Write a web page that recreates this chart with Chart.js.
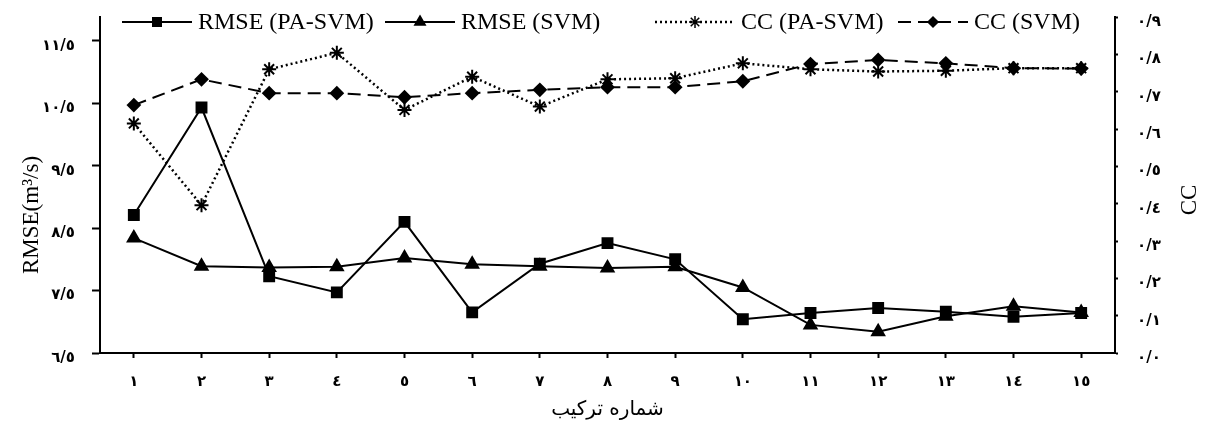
<!DOCTYPE html>
<html>
<head>
<meta charset="utf-8">
<script src="https://cdn.jsdelivr.net/npm/chart.js@4"></script>
<style>
  body { margin: 0; background: #fff; }
  #wrap { width: 1207px; height: 426px; position: relative; }
</style>
</head>
<body>
<div id="wrap"><canvas id="chart"></canvas></div>
<script>
// categories (combination number)
const categories = ['١','٢','٣','٤','٥','٦','٧','٨','٩','١٠','١١','١٢','١٣','١٤','١٥'];

// RMSE, left axis
const rmsePaSvm = [8.71, 10.43, 7.73, 7.47, 8.60, 7.15, 7.93, 8.26, 8.00, 7.04, 7.14, 7.22, 7.16, 7.08, 7.14];
const rmseSvm   = [8.34, 7.89, 7.87, 7.88, 8.02, 7.92, 7.89, 7.86, 7.88, 7.55, 6.95, 6.84, 7.09, 7.25, 7.15];

// CC, right axis
const ccPaSvm = [0.615, 0.396, 0.760, 0.804, 0.651, 0.740, 0.660, 0.733, 0.736, 0.776, 0.760, 0.754, 0.756, 0.763, 0.763];
const ccSvm   = [0.664, 0.733, 0.696, 0.696, 0.685, 0.696, 0.705, 0.712, 0.712, 0.728, 0.774, 0.785, 0.776, 0.763, 0.762];

// tick labels
const leftTicks = [6.5, 7.5, 8.5, 9.5, 10.5, 11.5];
const leftTickLabels = ['٦/٥','٧/٥','٨/٥','٩/٥','١٠/٥','١١/٥'];
const rightTickLabels = ['٠/٠','٠/١','٠/٢','٠/٣','٠/٤','٠/٥','٠/٦','٠/٧','٠/٨','٠/٩'];

const serif = '"Liberation Serif", "Times New Roman", serif';
const tickFont = { family: '"DejaVu Sans"', size: 15, weight: 'bold' };

// where each legend entry starts (x), as in the original
const legendX = [122, 385, 655, 898];

// legend + side titles drawn over the plot like the original
const overlay = {
    id: 'overlay',
    afterDraw(chart) {
        const ctx = chart.ctx;
        ctx.save();
        ctx.font = '24px ' + serif;
        ctx.textBaseline = 'middle';
        const y = 22;
        chart.data.datasets.forEach((ds, i) => {
            const x = legendX[i];
            const symW = ds.borderDash && ds.borderDash[0] < 4 ? 80 : 70;
            ctx.strokeStyle = '#000';
            ctx.fillStyle = '#000';
            ctx.lineWidth = ds.borderWidth;
            ctx.setLineDash(ds.borderDash || []);
            ctx.beginPath();
            ctx.moveTo(x, y);
            ctx.lineTo(x + symW, y);
            ctx.stroke();
            ctx.setLineDash([]);
            ctx.lineWidth = 1.5;
            Chart.helpers.drawPoint(ctx, {
                pointStyle: ds.pointStyle,
                radius: ds.pointRadius - 1,
                rotation: 0,
                borderWidth: 1.5
            }, x + symW / 2, y);
            ctx.fillStyle = '#000';
            ctx.fillText(ds.label, x + symW + 6, y + 1);
        });

        // axis titles
        ctx.font = '23px ' + serif;
        ctx.textAlign = 'center';
        ctx.save();
        ctx.translate(32, 215);
        ctx.rotate(-Math.PI / 2);
        ctx.fillText('RMSE(m³/s)', 0, 0);
        ctx.restore();
        ctx.save();
        ctx.translate(1190, 200);
        ctx.rotate(-Math.PI / 2);
        ctx.fillText('CC', 0, 0);
        ctx.restore();
        ctx.restore();
    }
};

new Chart(document.getElementById('chart'), {
    type: 'line',
    data: {
        labels: categories,
        datasets: [
            {
                label: 'RMSE (PA-SVM)',
                data: rmsePaSvm,
                yAxisID: 'y',
                borderColor: '#000',
                backgroundColor: '#000',
                borderWidth: 2,
                pointStyle: 'rect',
                pointRadius: 7,
                tension: 0
            },
            {
                label: 'RMSE (SVM)',
                data: rmseSvm,
                yAxisID: 'y',
                borderColor: '#000',
                backgroundColor: '#000',
                borderWidth: 2,
                pointStyle: 'triangle',
                pointRadius: 7,
                tension: 0
            },
            {
                label: 'CC (PA-SVM)',
                data: ccPaSvm,
                yAxisID: 'y1',
                borderColor: '#000',
                backgroundColor: '#000',
                borderWidth: 2.5,
                borderDash: [2, 3],
                pointStyle: 'star',
                pointRadius: 7,
                pointBorderWidth: 2,
                tension: 0
            },
            {
                label: 'CC (SVM)',
                data: ccSvm,
                yAxisID: 'y1',
                borderColor: '#000',
                backgroundColor: '#000',
                borderWidth: 2,
                borderDash: [13, 7],
                pointStyle: 'rectRot',
                pointRadius: 6,
                tension: 0
            }
        ]
    },
    options: {
        responsive: true,
        maintainAspectRatio: false,
        animation: false,
        layout: { autoPadding: false, padding: { top: 17, left: 0, right: 0, bottom: 0 } },
        plugins: {
            legend: { display: false },
            tooltip: { enabled: false }
        },
        scales: {
            x: {
                offset: true,
                grid: { drawOnChartArea: false, offset: false, tickLength: 5, tickColor: '#000', tickWidth: 2 },
                border: { color: '#000', width: 2 },
                ticks: { color: '#000', font: tickFont, padding: 15, maxRotation: 0 },
                title: {
                    display: true,
                    text: 'شماره ترکیب',
                    color: '#000',
                    font: { family: '"DejaVu Sans"', size: 20 },
                    padding: { top: 0, bottom: 4 }
                },
                afterFit: s => { s.height = 73; s.paddingLeft = 0; s.paddingRight = 0; }
            },
            y: {
                position: 'left',
                min: 6.5,
                max: 11.88,
                afterBuildTicks: s => { s.ticks = leftTicks.map(v => ({ value: v })); },
                grid: { drawOnChartArea: false, tickLength: 8, tickColor: '#000', tickWidth: 2 },
                border: { color: '#000', width: 2 },
                ticks: {
                    color: '#000',
                    font: tickFont,
                    padding: 17,
                    labelOffset: 5,
                    callback: (v, i) => leftTickLabels[i]
                },
                afterFit: s => { s.width = 100; s.paddingTop = 0; s.paddingBottom = 0; }
            },
            y1: {
                position: 'right',
                min: 0,
                max: 0.9,
                ticks: {
                    stepSize: 0.1,
                    color: '#000',
                    font: tickFont,
                    padding: 19,
                    labelOffset: 5,
                    callback: (v, i) => rightTickLabels[i]
                },
                grid: { drawOnChartArea: false, tickLength: 3, tickColor: '#000', tickWidth: 2 },
                border: { color: '#000', width: 2 },
                afterFit: s => { s.width = 92; s.paddingTop = 0; s.paddingBottom = 0; }
            }
        }
    },
    plugins: [overlay]
});
</script>
</body>
</html>
